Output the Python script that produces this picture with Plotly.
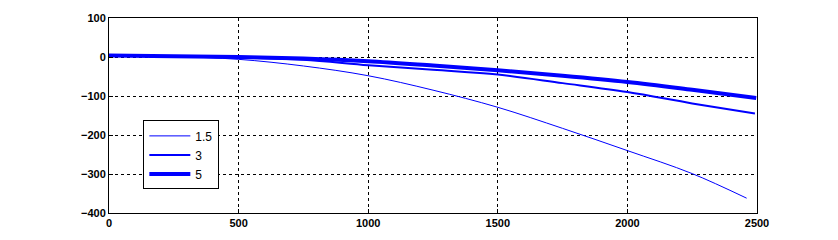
import plotly.graph_objects as go

x_15 = [0, 250, 500, 750, 1000, 1250, 1500, 1750, 2000, 2250, 2460]
y_15 = [3, 1, -6, -23, -48, -85, -129, -183, -240, -299, -362]

x_3 = [0, 250, 500, 750, 1000, 1250, 1500, 1750, 2000, 2250, 2492]
y_3 = [3, 2, -1, -7, -21, -33, -45, -67, -90, -119, -145]

x_5 = [0, 250, 500, 750, 1000, 1250, 1500, 1750, 2000, 2250, 2497]
y_5 = [4, 2, 0, -4, -11, -22, -34, -48, -64, -84, -105]

names = ["1.5", "3", "5"]
widths = [1, 2, 4]

fig = go.Figure()
for xs, ys, nm, w in zip([x_15, x_3, x_5], [y_15, y_3, y_5], names, widths):
    fig.add_trace(go.Scatter(x=xs, y=ys, mode="lines", name=nm,
                             line=dict(color="#0000ff", width=w, shape="spline")))

axis_common = dict(showline=True, linecolor="black", linewidth=1, mirror=True,
                   showgrid=True, gridcolor="black", gridwidth=1, griddash="3px,3px",
                   zeroline=False, ticks="inside", ticklen=4, tickcolor="black",
                   tickfont=dict(family="Liberation Sans", size=11, color="black", weight="bold"))

fig.update_layout(
    width=838, height=240,
    margin=dict(l=109, r=81, t=18, b=27),
    paper_bgcolor="white", plot_bgcolor="white",
    xaxis=dict(range=[0, 2500], dtick=500, **axis_common),
    yaxis=dict(range=[-400, 100], dtick=100, **axis_common),
    legend=dict(x=0.053, y=0.475, xanchor="left", yanchor="top",
                bgcolor="white", bordercolor="black", borderwidth=1,
                font=dict(family="Liberation Sans", size=12, color="black"),
                tracegroupgap=0, itemwidth=41, entrywidth=46, entrywidthmode="pixels"),
    showlegend=True,
)

fig.write_html("out.html")
